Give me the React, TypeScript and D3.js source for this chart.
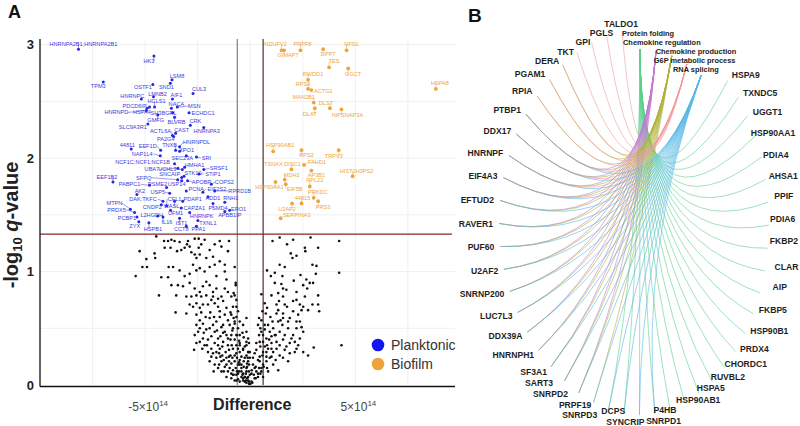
import React, { useEffect, useRef } from 'react';
import * as d3 from 'd3';

const W = 800;
const H = 426;

// ---------- panel A: volcano plot ----------
// difference in units of 10^14, q as -log10 q-value

const planktonicNames = [
  'HNRNPA2B1;HNRNPA2B1', 'HK3', 'LSM8', 'SND1', 'OSTF1', 'TPM3', 'CUL3', 'AIF1', 'LMNB2', 'HNRNPC',
  'HCLS1', 'PDCD6IP', 'NACA', 'MSN', 'HSPA4', 'SH3BGRL', 'ECHDC1', 'HNRNPD', 'GMFG', 'BLVRB',
  'CRK', 'SLC9A3R1', 'HNRNPA3', 'ACTL6A', 'CAST', 'PA2G4', 'HNRNPDL', '44811', 'EEF1D', 'TNXB',
  'XPO1', 'NAP1L4', 'SEC23A', 'SRI', 'NCF1C;NCF1;NCF1B', 'HMHA1', 'UBA7', 'UCHL3', 'SRSF1', 'STK10',
  'STIP1', 'SFPQ', 'SNCAIP', 'EEF1B2', 'APOBR', 'COPS2', 'PABPC1', 'PSME2', 'USP14', 'AK2',
  'USP5', 'PCNA', 'EIF2S2', 'RPRD1B', 'DAK;TKFC', 'CFL1', 'PDAP1', 'ADD1', 'RNH1', 'MTPN',
  'CNDP2', 'WASL', 'CAPZA1', 'PSMD4', 'ERO1', 'PRDX5', 'PCBP1', 'L2HGDH', 'UFM1', 'HNRNPK',
  'APBB1IP', 'ZYX', 'IL16', 'IST1', 'TXNL1', 'HSPB1', 'CCT8', 'PPA1',
];
const planktonicDiff = [
  -8.17, -4.58, -3.72, -3.80, -4.63, -6.99, -2.72, -3.70, -4.60, -5.18,
  -4.55, -4.79, -3.75, -3.47, -4.91, -3.69, -2.91, -4.94, -4.40, -3.60,
  -2.85, -4.87, -2.21, -3.70, -3.55, -3.64, -3.36, -5.66, -4.26, -3.55,
  -3.36, -4.28, -3.04, -2.56, -3.60, -3.12, -3.44, -3.23, -2.21, -3.15,
  -2.44, -3.45, -3.26, -6.53, -2.98, -1.85, -4.79, -3.98, -3.26, -5.39,
  -3.83, -3.04, -2.25, -1.69, -4.15, -3.98, -3.21, -2.01, -1.21, -5.70,
  -4.23, -3.60, -3.28, -1.77, -0.98, -5.50, -5.39, -4.40, -3.79, -2.88,
  -1.21, -5.30, -4.15, -3.36, -2.49, -4.82, -3.04, -2.56,
];
const planktonicQ = [
  2.96, 2.90, 2.69, 2.66, 2.65, 2.67, 2.57, 2.52, 2.54, 2.52,
  2.45, 2.45, 2.44, 2.45, 2.44, 2.40, 2.40, 2.42, 2.38, 2.36,
  2.29, 2.30, 2.27, 2.20, 2.22, 2.19, 2.10, 2.08, 2.07, 2.07,
  2.06, 2.02, 2.02, 2.01, 1.95, 1.92, 1.91, 1.90, 1.90, 1.84,
  1.86, 1.81, 1.83, 1.79, 1.80, 1.77, 1.76, 1.74, 1.80, 1.68,
  1.69, 1.71, 1.70, 1.71, 1.62, 1.58, 1.62, 1.66, 1.61, 1.55,
  1.59, 1.62, 1.56, 1.60, 1.54, 1.52, 1.48, 1.49, 1.54, 1.52,
  1.53, 1.44, 1.48, 1.47, 1.45, 1.43, 1.40, 1.40,
];
// repelled label offsets (px)
const planktonicNudge: [number, number][] = [
  [5, -5], [-5, 5], [5, -4], [-4, 4], [-10, 3], [-5, 4], [6, -4], [4, -4], [4, -3], [-9, -3],
  [2, -6], [-15, -1], [5, -4], [17, -1], [-5, 4], [-9, 0], [14, 0], [-30, 2], [-2, 5], [2, 5],
  [5, -4], [-15, 3], [3, 4], [-12, -4], [6, -3], [-8, 2], [17, -5], [-4, -4], [-13, -4], [-6, -5],
  [7, -1], [-18, -2], [-4, 2], [10, 1], [-32, -2], [10, -2], [-26, 1], [-15, 0], [15, -1], [9, -3],
  [14, 0], [-34, -2], [-12, -3], [-6, -5], [14, 1], [13, -2], [-20, -1], [-9, -4], [-5, 3], [3, -3],
  [-12, -1], [10, -2], [14, -3], [25, 0], [-20, -2], [8, -7], [10, -2], [5, 1], [6, -4], [-16, -6],
  [-9, 2], [-3, 5], [13, 0], [5, 5], [9, -1], [-18, -3], [-10, 1], [-6, -1], [5, 3], [12, 3],
  [5, 4], [-4, 4], [4, 5], [2, 5], [10, 3], [4, 6], [-5, 3], [2, 3],
];

const biofilmNames = [
  'NDUFV2', 'GIMAP7', 'PRPF8', 'DPP7', 'NFS1', 'TES', 'GGCT', 'RWDD1', 'RPS6', 'ACTG1',
  'MAN2B1', 'DLST', 'DLAT', 'NIPSNAP3A', 'HSPA8', 'HSP90AB1', 'RPS2', 'TRPV3', 'TSNAX;DISC1', 'FAHD1',
  'HIST2H3PS2', 'MDH2', 'AP3B1', 'RPL22', 'HSP90AA1', 'EIF5B', 'PRKDC', '44815', 'PRS3', 'U2AF2',
  'SERPINA3',
];
const biofilmDiff = [
  1.49, 1.61, 2.39, 3.47, 4.58, 3.75, 4.66, 2.75, 2.75, 2.91,
  3.02, 3.79, 3.07, 4.34, 8.83, 1.09, 2.44, 4.21, 1.96, 2.56,
  4.87, 1.64, 2.91, 2.83, 1.20, 1.69, 3.02, 2.44, 3.23, 1.99,
  1.45,
];
const biofilmQ = [
  2.95, 2.95, 2.95, 2.96, 2.95, 2.80, 2.79, 2.69, 2.61, 2.60,
  2.49, 2.44, 2.44, 2.43, 2.61, 2.06, 2.07, 2.07, 1.90, 1.94,
  1.84, 1.81, 1.89, 1.75, 1.79, 1.77, 1.65, 1.60, 1.62, 1.60,
  1.47,
];
const biofilmNudge: [number, number][] = [
  [-6, -6], [4, 5], [2, -6], [5, 5], [5, -6], [5, -6], [5, 6], [5, -6], [-5, -5], [12, 1],
  [-10, -5], [-4, -5], [-5, 6], [6, 6], [4, -6], [7, -6], [5, 5], [-5, 6], [-9, -5], [13, -3],
  [4, -5], [7, -5], [5, 4], [5, -6], [-6, 5], [9, 5], [4, -6], [1, -5], [5, 6], [-5, 6],
  [16, -3],
];

// proteins below the significance cut-off [difference, -log10 q]
const otherProteins: [number, number][] = [
  [-4.47, 1.31], [-4.10, 1.27], [-3.91, 1.27], [-3.75, 1.28], [-3.60, 1.27], [-3.36, 1.26], [-2.96, 1.27], [-2.64, 1.29],
  [-2.45, 1.29], [-2.17, 1.28], [-1.45, 1.27], [-1.01, 1.27], [-5.26, 1.18], [-4.94, 1.11], [-4.55, 1.16], [-4.52, 1.12],
  [-4.07, 1.21], [-3.79, 1.21], [-3.48, 1.18], [-3.28, 1.19], [-3.12, 1.21], [-3.01, 1.24], [-2.88, 1.22], [-2.80, 1.17],
  [-2.64, 1.15], [-2.56, 1.12], [-2.45, 1.21], [-2.33, 1.24], [-2.40, 1.15], [-2.09, 1.12], [-1.93, 1.19], [-1.77, 1.13],
  [-1.69, 1.24], [-1.37, 1.22], [-1.21, 1.06], [-1.45, 1.09], [-1.06, 1.18], [-0.74, 1.04], [-5.45, 0.96], [-5.13, 1.04],
  [-4.91, 1.04], [-4.23, 0.95], [-3.91, 0.95], [-3.88, 1.04], [-3.67, 1.04], [-3.36, 1.01], [-3.12, 0.96], [-2.88, 0.98],
  [-2.72, 1.06], [-2.56, 1.01], [-2.40, 1.03], [-2.17, 1.00], [-1.93, 1.04], [-1.69, 1.06], [-1.61, 0.96], [-1.21, 1.00],
  [-1.13, 0.93], [-3.75, 0.88], [-3.44, 0.88], [-3.20, 0.87], [-2.88, 0.90], [-2.64, 0.85], [-2.40, 0.82], [-2.25, 0.87],
  [-2.09, 0.91], [-1.93, 0.88], [-1.77, 0.82], [-1.61, 0.85], [-1.21, 0.85], [-1.06, 0.82], [-0.69, 0.88], [-4.34, 0.79],
  [-3.52, 0.79], [-3.04, 0.78], [-2.80, 0.78], [-2.56, 0.79], [-2.33, 0.78], [-2.09, 0.79], [-1.77, 0.78], [-1.53, 0.76],
  [-1.37, 0.78], [-0.90, 0.78], [-0.74, 0.79], [-3.55, 0.64], [-3.04, 0.63], [-2.88, 0.71], [-2.72, 0.69], [-2.56, 0.72],
  [-2.40, 0.68], [-2.25, 0.71], [-2.01, 0.71], [-1.85, 0.75], [-1.69, 0.72], [-1.53, 0.69], [-1.29, 0.74], [-1.13, 0.68],
  [-0.82, 0.69], [-0.66, 0.75], [-0.58, 0.65], [-2.64, 0.44], [-2.56, 0.53], [-2.40, 0.57], [-2.25, 0.54], [-2.09, 0.49],
  [-1.93, 0.59], [-1.77, 0.53], [-1.69, 0.47], [-1.61, 0.56], [-1.45, 0.60], [-1.29, 0.53], [-1.21, 0.47], [-1.06, 0.57],
  [-0.98, 0.53], [-0.90, 0.44], [-0.74, 0.54], [-0.66, 0.60], [-0.58, 0.50], [-0.50, 0.44], [-0.34, 0.53], [-0.18, 0.47],
  [-2.67, 0.31], [-2.40, 0.38], [-2.17, 0.35], [-2.01, 0.40], [-1.85, 0.32], [-1.69, 0.37], [-1.53, 0.41], [-1.45, 0.32],
  [-1.29, 0.38], [-1.17, 0.29], [-1.06, 0.35], [-0.94, 0.26], [-0.82, 0.32], [-0.74, 0.40], [-0.66, 0.28], [-0.50, 0.35],
  [-0.42, 0.25], [-0.34, 0.31], [-0.18, 0.26], [-1.69, 0.18], [-1.53, 0.15], [-1.37, 0.21], [-1.21, 0.16], [-1.06, 0.12],
  [-0.90, 0.19], [-0.82, 0.13], [-0.66, 0.09], [-0.58, 0.18], [-0.42, 0.12], [-0.34, 0.06], [-0.18, 0.15], [-0.10, 0.07],
  [-0.50, 0.03], [-0.26, 0.03], [-0.74, 0.04], [-1.61, 0.29], [-1.42, 0.25], [-1.26, 0.22], [-1.13, 0.24], [-1.01, 0.21],
  [-0.85, 0.24], [-0.74, 0.21], [-0.63, 0.24], [-0.53, 0.20], [-0.42, 0.18], [-0.31, 0.21], [-0.21, 0.10], [-0.15, 0.19],
  [-0.07, 0.12], [-0.25, 0.07], [-0.37, 0.09], [-0.53, 0.12], [-0.69, 0.15], [-0.90, 0.10], [-1.13, 0.18], [-1.37, 0.12],
  [-1.61, 0.24], [-1.85, 0.25], [-2.01, 0.29], [-2.25, 0.41], [-2.48, 0.47], [-1.37, 0.51], [-1.93, 0.50], [-0.85, 0.48],
  [-1.06, 0.41], [-1.53, 0.35], [-1.29, 0.46], [-0.53, 0.39], [-0.31, 0.42], [-0.18, 0.35], [-0.09, 0.29], [-0.12, 0.24],
  [-0.06, 0.18], [-0.50, 0.29], [-0.66, 0.35],
  [-2.56, 0.62], [-2.33, 0.64], [-2.12, 0.60], [-1.90, 0.64], [-1.72, 0.60], [-1.45, 0.65], [-1.21, 0.62], [-0.94, 0.64],
  [-0.79, 0.59], [-0.50, 0.56], [-0.18, 0.59], [-2.40, 0.50], [-2.21, 0.46], [-1.85, 0.43], [-1.58, 0.48], [-1.42, 0.43],
  [-1.13, 0.44], [-0.94, 0.40], [-0.63, 0.44], [-0.37, 0.46], [-0.10, 0.41], [-2.56, 0.37], [-2.28, 0.32], [-2.06, 0.35],
  [-1.77, 0.28], [-1.48, 0.28], [-1.33, 0.34], [-1.01, 0.31], [-0.88, 0.35], [-0.58, 0.32], [-0.26, 0.34], [-0.06, 0.37],
  [-1.93, 0.21], [-1.74, 0.12], [-1.48, 0.18], [-1.26, 0.12], [-0.98, 0.15], [-0.79, 0.09], [-0.63, 0.12], [-0.42, 0.07],
  [-0.21, 0.04], [-0.06, 0.03], [-0.58, 0.05], [-0.90, 0.06], [-1.13, 0.07], [-0.31, 0.16], [-0.10, 0.21], [-0.50, 0.22],
  [-0.74, 0.26], [-1.01, 0.25], [-1.33, 0.26],
  [1.06, 1.27], [1.40, 1.30], [1.75, 1.24], [2.04, 1.28], [1.93, 1.16], [2.01, 1.12], [2.20, 1.14], [2.60, 1.21],
  [2.62, 1.18], [2.87, 1.30], [3.23, 1.21], [4.23, 1.27], [0.80, 1.01], [0.98, 0.96], [1.17, 0.99], [1.40, 1.06],
  [1.53, 0.96], [1.64, 1.04], [1.48, 0.89], [2.07, 0.92], [2.39, 0.97], [2.52, 0.88], [2.71, 0.85], [2.67, 0.93],
  [2.83, 0.90], [2.96, 1.06], [3.15, 1.05], [3.12, 0.98], [3.23, 0.79], [4.23, 0.99], [0.53, 0.80], [1.01, 0.79],
  [1.25, 0.71], [1.37, 0.74], [1.56, 0.78], [1.64, 0.71], [1.75, 0.69], [2.04, 0.74], [2.20, 0.75], [2.36, 0.71],
  [2.52, 0.69], [2.75, 0.66], [2.96, 0.71], [3.23, 0.71], [3.28, 0.65], [0.74, 0.63], [0.85, 0.53], [0.93, 0.47],
  [1.09, 0.50], [1.21, 0.44], [1.33, 0.56], [1.44, 0.57], [1.53, 0.53], [1.64, 0.44], [1.80, 0.50], [1.88, 0.59],
  [2.04, 0.44], [2.20, 0.50], [2.36, 0.56], [2.44, 0.51], [2.52, 0.47], [2.36, 0.41], [2.12, 0.38], [1.88, 0.37],
  [1.56, 0.40], [1.40, 0.35], [1.25, 0.38], [1.09, 0.29], [0.85, 0.32], [0.61, 0.29], [0.45, 0.38], [0.61, 0.44],
  [0.77, 0.41], [1.40, 0.26], [1.64, 0.31], [1.88, 0.28], [2.12, 0.29], [2.28, 0.35], [2.52, 0.29], [2.75, 0.26],
  [3.02, 0.33], [4.34, 0.35], [1.80, 0.21], [1.33, 0.13], [1.09, 0.18], [0.77, 0.21], [0.53, 0.15], [0.37, 0.10],
  [0.61, 0.07], [0.85, 0.12], [0.93, 0.24],
  [-0.34, 0.32], [-0.10, 0.29], [-0.02, 0.24], [0.13, 0.18], [0.29, 0.12], [-0.02, 0.09], [-0.18, 0.12], [0.21, 0.06],
  [0.06, 0.03], [-0.10, 0.04], [-0.26, 0.07], [0.37, 0.07], [0.45, 0.21], [0.37, 0.53], [0.53, 0.57], [0.29, 0.37],
  [0.21, 0.28], [0.45, 0.25], [-0.42, 0.15], [-0.58, 0.10], [-0.82, 0.09], [-0.66, 0.04], [-0.34, 0.04],
  [-0.06, 0.01], [0.01, 0.01], [0.10, 0.02], [-0.18, 0.02], [0.17, 0.09], [0.07, 0.13], [-0.15, 0.16], [0.26, 0.16],
  [0.42, 0.15], [0.53, 0.12], [0.64, 0.16], [0.77, 0.25], [1.01, 0.25], [1.21, 0.22], [1.56, 0.24], [0.69, 0.34],
  [1.01, 0.37], [1.25, 0.32], [1.72, 0.34], [1.96, 0.41], [2.20, 0.32], [1.01, 0.43], [1.40, 0.47], [0.69, 0.49],
  [0.53, 0.47], [1.80, 0.56], [1.56, 0.63], [2.04, 0.65], [2.28, 0.62], [2.44, 0.66], [1.33, 0.81], [1.72, 0.84],
  [2.20, 0.82], [2.60, 0.78], [2.99, 0.90], [1.56, 0.85], [1.17, 0.90],
  [0.61, 0.38], [0.80, 0.35], [1.01, 0.32], [0.90, 0.40], [1.17, 0.44], [0.69, 0.53], [0.48, 0.50], [0.42, 0.44],
  [0.29, 0.31], [0.48, 0.34], [0.58, 0.26], [0.77, 0.29], [0.37, 0.22], [0.61, 0.18], [0.80, 0.15], [0.21, 0.15],
  [0.06, 0.10], [0.48, 0.10], [0.26, 0.06], [-0.15, 0.06], [-0.34, 0.10], [-0.50, 0.18], [-0.26, 0.24], [0.13, 0.24],
  [-0.02, 0.29], [-0.18, 0.38], [-0.50, 0.37], [-0.66, 0.44], [-0.82, 0.50], [-0.74, 0.56], [-0.90, 0.62], [-0.66, 0.69],
  [-0.79, 0.81], [-0.69, 0.90], [0.69, 0.72], [0.58, 0.65], [0.42, 0.59], [0.80, 0.68], [0.96, 0.60], [1.25, 0.63],
  [1.33, 0.66], [1.56, 0.59], [1.06, 0.56], [2.20, 0.56],
];

const diffCutoff = 0.614;
const qCutoff = 1.33;
const xTicks = [-5, 5];
const yTicks = [0, 1, 2, 3];

// ---------- panel B: gene–term network ----------
const networkGenes = [
  'TALDO1', 'PGLS', 'GPI', 'TKT', 'DERA', 'PGAM1', 'RPIA', 'PTBP1', 'DDX17', 'HNRNPF',
  'EIF4A3', 'EFTUD2', 'RAVER1', 'PUF60', 'U2AF2', 'SNRNP200', 'LUC7L3', 'DDX39A', 'HNRNPH1', 'SF3A1',
  'SART3', 'SNRPD2', 'PRPF19', 'SNRPD3', 'DCPS', 'SYNCRIP', 'SNRPD1', 'P4HB', 'HSP90AB1', 'HSPA5',
  'RUVBL2', 'CHORDC1', 'PRDX4', 'HSP90B1', 'FKBP5', 'AIP', 'CLAR', 'FKBP2', 'PDIA6', 'PPIF',
  'AHSA1', 'PDIA4', 'HSP90AA1', 'UGGT1', 'TXNDC5', 'HSPA9',
];
const termNames = ['Protein folding', 'Chemokine regulation', 'Chemokine production', 'G6P metabolic process', 'RNA splicing'];
const termColors = ['#5ccf8c', '#c478d4', '#b2b23a', '#f19c9c', '#56b8e6'];
const foldingGenes = [
  'SNRPD3', 'DCPS', 'SYNCRIP', 'SNRPD1', 'P4HB', 'HSP90AB1', 'HSPA5', 'RUVBL2', 'CHORDC1', 'PRDX4',
  'HSP90B1', 'FKBP5', 'AIP', 'CLAR', 'FKBP2', 'PDIA6', 'PPIF', 'AHSA1', 'PDIA4', 'HSP90AA1',
  'UGGT1', 'TXNDC5', 'HSPA9',
];
const chemokineRegGenes = [
  'PTBP1', 'DDX17', 'HNRNPF', 'EIF4A3', 'EFTUD2', 'RAVER1', 'PUF60', 'U2AF2', 'SNRNP200', 'LUC7L3',
  'DDX39A', 'HNRNPH1', 'SF3A1', 'SART3', 'SNRPD2',
];
const chemokineProdGenes = [
  'DERA', 'PGAM1', 'RPIA', 'PTBP1', 'DDX17', 'HNRNPF', 'EIF4A3', 'EFTUD2', 'RAVER1', 'PUF60',
  'U2AF2', 'SNRNP200', 'LUC7L3', 'DDX39A', 'HNRNPH1', 'SF3A1', 'SART3', 'SNRPD2', 'PRPF19',
];
const g6pGenes = ['TALDO1', 'PGLS', 'GPI', 'TKT', 'DERA', 'PGAM1', 'RPIA', 'PTBP1', 'DDX17', 'HNRNPF', 'EIF4A3'];
const splicingGenes = [
  'PTBP1', 'DDX17', 'HNRNPF', 'EIF4A3', 'EFTUD2', 'RAVER1', 'PUF60', 'U2AF2', 'SNRNP200', 'LUC7L3',
  'DDX39A', 'HNRNPH1', 'SF3A1', 'SART3', 'SNRPD2', 'PRPF19', 'SNRPD3', 'DCPS', 'SYNCRIP', 'SNRPD1',
];
const termGenes = [foldingGenes, chemokineRegGenes, chemokineProdGenes, g6pGenes, splicingGenes];
const termLabelDx = [-18, -33, -16, -33, -28];

// hand-repelled gene label offsets (px) where labels would collide
const geneLabelNudge: Record<string, [number, number]> = {
  PGLS: [8, 4], GPI: [1, 6], TKT: [0, 6], DERA: [0, 2],
  SART3: [-8, -4], SNRPD2: [-8, -5], PRPF19: [0, -4], SNRPD3: [-10, -1], DCPS: [-10, -9],
  SYNCRIP: [-14, 0], SNRPD1: [8, 0], P4HB: [-18, -6], HSP90AB1: [-11, -10], HSPA5: [-5, -12],
  RUVBL2: [-5, -11], CHORDC1: [-4, -9], PRDX4: [0, -7], HSP90B1: [0, -7], FKBP5: [0, -7],
  AIP: [7, -8], CLAR: [4, -6], FKBP2: [-4, -8], PDIA6: [-5, -6], PPIF: [0, -5],
  AHSA1: [-3, -2], PDIA4: [-4, 0], HSP90AA1: [-10, 0],
};

const FONT = '"Liberation Sans", Arial, sans-serif';
const BLUE = '#2626e4';
const BLUE_TEXT = '#3c3ce0';
const ORANGE = '#eea43c';

type G = d3.Selection<SVGGElement, unknown, null, undefined>;

function drawVolcano(g: G) {
  const x = d3.scaleLinear().domain([-10, 9.74]).range([40, 455]);
  const y = d3.scaleLinear().domain([0, 3.05]).range([385, 39]);

  // grid
  g.selectAll('line.gx').data([-7.5, -5, -2.5, 0, 2.5, 5, 7.5]).join('line')
    .attr('x1', d => x(d)).attr('x2', d => x(d)).attr('y1', y(3.05)).attr('y2', y(0))
    .attr('stroke', '#ececec').attr('stroke-width', 0.8);
  g.selectAll('line.gy').data([0.5, 1, 1.5, 2, 2.5, 3]).join('line')
    .attr('x1', x(-10)).attr('x2', x(9.74)).attr('y1', d => y(d)).attr('y2', d => y(d))
    .attr('stroke', '#ececec').attr('stroke-width', 0.8);

  // cut-off lines
  g.append('line').attr('x1', x(-diffCutoff)).attr('x2', x(-diffCutoff)).attr('y1', y(3.05)).attr('y2', y(0))
    .attr('stroke', '#8a8a8a').attr('stroke-width', 1.3);
  g.append('line').attr('x1', x(diffCutoff)).attr('x2', x(diffCutoff)).attr('y1', y(3.05)).attr('y2', y(0))
    .attr('stroke', '#5e4040').attr('stroke-width', 1.3);
  g.append('line').attr('x1', x(-10)).attr('x2', x(9.6)).attr('y1', y(qCutoff)).attr('y2', y(qCutoff))
    .attr('stroke', '#8a2626').attr('stroke-width', 1.2);

  // axes
  g.append('line').attr('x1', x(-10)).attr('x2', x(-10)).attr('y1', y(3.05)).attr('y2', y(0) + 1.5)
    .attr('stroke', '#111').attr('stroke-width', 1.3);
  g.append('line').attr('x1', x(-10)).attr('x2', x(9.74)).attr('y1', y(0) + 1.5).attr('y2', y(0) + 1.5)
    .attr('stroke', '#111').attr('stroke-width', 1.5);

  g.selectAll('text.yt').data(yTicks).join('text')
    .attr('x', 34).attr('y', d => y(d)).attr('dy', '0.35em').attr('text-anchor', 'end')
    .attr('font-family', FONT).attr('font-weight', 'bold').attr('font-size', 13).attr('fill', '#222')
    .text(d => d);

  const xt = g.selectAll('text.xt').data(xTicks).join('text')
    .attr('x', d => x(d) + 3).attr('y', 411).attr('text-anchor', 'middle')
    .attr('font-family', FONT).attr('font-size', 12).attr('fill', '#444');
  xt.append('tspan').text(d => `${d < 0 ? '-' : ''}${Math.abs(d)}×10`);
  xt.append('tspan').attr('dy', -5).attr('font-size', 8).text('14');

  g.append('text').attr('x', x(0) + 2).attr('y', 410).attr('text-anchor', 'middle')
    .attr('font-family', FONT).attr('font-weight', 'bold').attr('font-size', 16).attr('fill', '#222')
    .text('Difference');

  const yl = g.append('text').attr('transform', 'translate(18,225) rotate(-90)').attr('text-anchor', 'middle')
    .attr('font-family', FONT).attr('font-weight', 'bold').attr('font-size', 20).attr('fill', '#222');
  yl.append('tspan').text('-log');
  yl.append('tspan').attr('font-size', 13).attr('dy', 4).text('10');
  yl.append('tspan').attr('dy', -4).text(' ');
  yl.append('tspan').attr('font-style', 'italic').text('q');
  yl.append('tspan').text('-value');

  // non-significant proteins
  g.append('g').selectAll('circle').data(otherProteins).join('circle')
    .attr('cx', d => x(d[0])).attr('cy', d => y(d[1])).attr('r', 1.3).attr('fill', '#111');

  const drawGroup = (names: string[], diff: number[], q: number[], nudge: [number, number][],
    dot: string, ink: string, r: number) => {
    const rows = names.map((n, i) => ({ n, v: diff[i], q: q[i], dx: nudge[i][0], dy: nudge[i][1] }));
    const lg = g.append('g');
    rows.forEach(d => {
      const px = x(d.v);
      const py = y(d.q);
      const hw = d.n.length * 5.6 * 0.33;
      const lx = px + d.dx;
      const ly = py + d.dy;
      const ex = lx - Math.sign(d.dx) * Math.min(hw, Math.abs(d.dx));
      if (Math.hypot(ex - px, ly - py) > 4) {
        lg.append('line').attr('x1', px).attr('y1', py).attr('x2', ex).attr('y2', ly)
          .attr('stroke', ink).attr('stroke-width', 0.5);
      }
      lg.append('text').attr('x', lx).attr('y', ly).attr('dy', '0.35em').attr('text-anchor', 'middle')
        .attr('font-family', FONT).attr('font-size', 5.6).attr('fill', ink).text(d.n);
    });
    g.append('g').selectAll('circle').data(rows).join('circle')
      .attr('cx', d => x(d.v)).attr('cy', d => y(d.q)).attr('r', r).attr('fill', dot);
  };
  drawGroup(planktonicNames, planktonicDiff, planktonicQ, planktonicNudge, BLUE, BLUE_TEXT, 1.5);
  drawGroup(biofilmNames, biofilmDiff, biofilmQ, biofilmNudge, ORANGE, ORANGE, 1.9);

  // legend
  const legend = [{ label: 'Planktonic', color: '#1414f0' }, { label: 'Biofilm', color: '#eea23a' }];
  const lgd = g.append('g').attr('transform', 'translate(378,345)');
  lgd.selectAll('circle').data(legend).join('circle')
    .attr('cx', 0).attr('cy', (_, i) => i * 19).attr('r', 6.3).attr('fill', d => d.color);
  lgd.selectAll('text').data(legend).join('text')
    .attr('x', 13).attr('y', (_, i) => i * 19).attr('dy', '0.35em')
    .attr('font-family', FONT).attr('font-size', 14).attr('fill', '#333').text(d => d.label);

  g.append('text').attr('x', 8).attr('y', 18).attr('font-family', FONT).attr('font-weight', 'bold')
    .attr('font-size', 18).attr('fill', '#111').text('A');
}

function drawNetwork(g: G) {
  const cx = 640;
  const cy = 222;
  const startDeg = -98;
  const stepDeg = 6.87;
  const rad = (deg: number) => (deg * Math.PI) / 180;
  // the left half of the ring sits a little wider than the right
  const rxAt = (c: number, base: number) => base + (c < 0 ? 12 * c * c : 0);

  const genePos = new Map<string, { x: number; y: number; lx: number; ly: number; c: number }>();
  networkGenes.forEach((name, i) => {
    const t = rad(startDeg - i * stepDeg);
    const c = Math.cos(t);
    const s = Math.sin(t);
    const nd = geneLabelNudge[name] || [0, 0];
    genePos.set(name, {
      x: cx + rxAt(c, 129) * c, y: cy + 193 * s,
      lx: cx + rxAt(c, 135) * c + nd[0], ly: cy + 200 * s + nd[1], c,
    });
  });
  const termPos = termNames.map((_, k) => {
    const t = rad(-90 + 8 * k);
    return { x: cx + 0.9 * 128 * Math.cos(t), y: cy + 0.9 * 192 * Math.sin(t) };
  });
  const ctrl = { x: 640, y: 250 };

  const edges = g.append('g').attr('fill', 'none');
  termGenes.forEach((genes, k) => {
    genes.forEach(name => {
      const s = genePos.get(name)!;
      const p = d3.path();
      p.moveTo(s.x, s.y);
      p.quadraticCurveTo(ctrl.x, ctrl.y, termPos[k].x, termPos[k].y);
      edges.append('path').attr('d', p.toString()).attr('stroke', termColors[k])
        .attr('stroke-width', 0.7).attr('stroke-opacity', 0.85);
    });
  });

  g.append('g').selectAll('text').data(networkGenes).join('text')
    .attr('x', d => genePos.get(d)!.lx).attr('y', d => genePos.get(d)!.ly).attr('dy', '0.35em')
    .attr('text-anchor', d => {
      const c = genePos.get(d)!.c;
      return c < -0.2 ? 'end' : c > 0.2 ? 'start' : 'middle';
    })
    .attr('font-family', FONT).attr('font-weight', 'bold').attr('font-size', 8.6).attr('fill', '#1e1e1e')
    .text(d => d);

  g.append('g').selectAll('text').data(termNames).join('text')
    .attr('x', (_, k) => termPos[k].x + termLabelDx[k]).attr('y', (_, k) => 33 + 9 * k).attr('dy', '0.35em')
    .attr('font-family', FONT).attr('font-weight', 'bold').attr('font-size', 7.4).attr('fill', '#222')
    .text(d => d);

  g.append('text').attr('x', 468).attr('y', 22).attr('font-family', FONT).attr('font-weight', 'bold')
    .attr('font-size', 19).attr('fill', '#111').text('B');
}

export default function App() {
  const svgRef = useRef<SVGSVGElement>(null);

  useEffect(() => {
    if (!svgRef.current) return;
    const svg = d3.select(svgRef.current);
    svg.selectAll('*').remove();
    drawVolcano(svg.append('g') as unknown as G);
    drawNetwork(svg.append('g') as unknown as G);
  }, []);

  return (
    <div style={{ position: 'absolute', left: 0, top: 0 }}>
      <svg ref={svgRef} width={W} height={H} viewBox={`0 0 ${W} ${H}`} style={{ display: 'block', background: '#fff' }} />
    </div>
  );
}
